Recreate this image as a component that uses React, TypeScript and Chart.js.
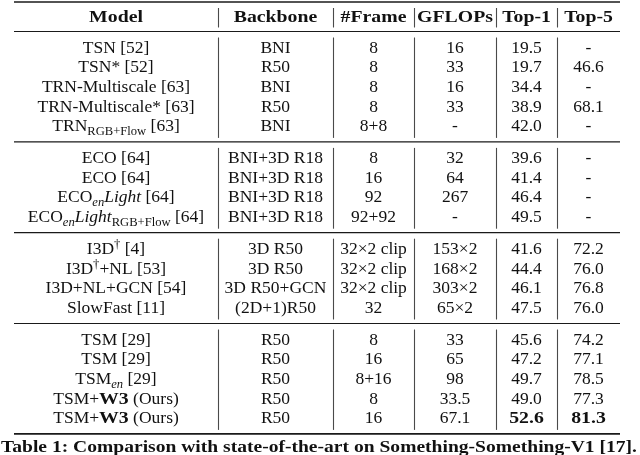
import React, { useEffect, useRef } from "react";
import { Chart, registerables } from "chart.js";

Chart.register(...registerables);

// ---------------- data ----------------
const columnHeaders = ["Model", "Backbone", "#Frame", "GFLOPs", "Top-1", "Top-5"];

const models = [
  "TSN [52]",
  "TSN* [52]",
  "TRN-Multiscale [63]",
  "TRN-Multiscale* [63]",
  "TRN_{RGB+Flow} [63]",
  "ECO [64]",
  "ECO [64]",
  "ECO_i{en}//Light// [64]",
  "ECO_i{en}//Light//_{RGB+Flow} [64]",
  "I3D^{†} [4]",
  "I3D^{†}+NL [53]",
  "I3D+NL+GCN [54]",
  "SlowFast [11]",
  "TSM [29]",
  "TSM [29]",
  "TSM_i{en} [29]",
  "TSM+**W3** (Ours)",
  "TSM+**W3** (Ours)",
];

const backbones = [
  "BNI", "R50", "BNI", "R50", "BNI",
  "BNI+3D R18", "BNI+3D R18", "BNI+3D R18", "BNI+3D R18",
  "3D R50", "3D R50", "3D R50+GCN", "(2D+1)R50",
  "R50", "R50", "R50", "R50", "R50",
];

const frames = [
  "8", "8", "8", "8", "8+8",
  "8", "16", "92", "92+92",
  "32×2 clip", "32×2 clip", "32×2 clip", "32",
  "8", "16", "8+16", "8", "16",
];

const gflops = [
  "16", "33", "16", "33", "-",
  "32", "64", "267", "-",
  "153×2", "168×2", "303×2", "65×2",
  "33", "65", "98", "33.5", "67.1",
];

const top1 = [
  "19.5", "19.7", "34.4", "38.9", "42.0",
  "39.6", "41.4", "46.4", "49.5",
  "41.6", "44.4", "46.1", "47.5",
  "45.6", "47.2", "49.7", "49.0", "**52.6**",
];

const top5 = [
  "-", "46.6", "-", "68.1", "-",
  "-", "-", "-", "-",
  "72.2", "76.0", "76.8", "76.0",
  "74.2", "77.1", "78.5", "77.3", "**81.3**",
];

const groupSizes = [5, 4, 4, 5];

const caption = "Table 1: Comparison with state-of-the-art on Something-Something-V1 [17].";

// ---------------- layout (not data) ----------------
const W = 640;
const H = 455;
const COL_EDGES = [14, 218, 333, 414, 496, 557, 620];
const FONT = '"Liberation Serif", "Times New Roman", serif';
const FS = 17.5;
const BOLD_SX = 1.13;
const TOP_RULE = 2;
const HEAD_CENTER = 16.5;
const HEAD_RULE = 31.5;
const ROW_H = 19.6;
const PAD = 6.2;
const CAPTION_Y = 447;
const CAPTION_W = 636;

type Seg = { t: string; bold: boolean; italic: boolean; scale: number; dy: number };

function parseRich(s: string, bold = false): Seg[] {
  const parts = s.split(/(_i\{[^}]*\}|_\{[^}]*\}|\^\{[^}]*\}|\*\*[^*]+\*\*|\/\/[^/]+\/\/)/);
  const out: Seg[] = [];
  for (const p of parts) {
    if (!p) continue;
    if (p.startsWith("_i{")) out.push({ t: p.slice(3, -1), bold, italic: true, scale: 0.72, dy: 3.5 });
    else if (p.startsWith("_{")) out.push({ t: p.slice(2, -1), bold, italic: false, scale: 0.72, dy: 3.5 });
    else if (p.startsWith("^{")) out.push({ t: p.slice(2, -1), bold, italic: false, scale: 0.72, dy: -6 });
    else if (p.startsWith("**")) out.push({ t: p.slice(2, -2), bold: true, italic: false, scale: 1, dy: 0 });
    else if (p.startsWith("//")) out.push({ t: p.slice(2, -2), bold, italic: true, scale: 1, dy: 0 });
    else out.push({ t: p, bold, italic: false, scale: 1, dy: 0 });
  }
  return out;
}

function segFont(s: Seg) {
  return `${s.italic ? "italic " : ""}${s.bold ? "bold " : ""}${(FS * s.scale).toFixed(2)}px ${FONT}`;
}

function drawRich(ctx: CanvasRenderingContext2D, text: string, cx: number, baseline: number, bold = false) {
  const segs = parseRich(text, bold);
  let total = 0;
  const widths = segs.map((s) => {
    ctx.font = segFont(s);
    const w = ctx.measureText(s.t).width * (s.bold ? BOLD_SX : 1);
    total += w;
    return w;
  });
  let x = cx - total / 2;
  segs.forEach((s, i) => {
    ctx.font = segFont(s);
    ctx.save();
    ctx.translate(x, baseline + s.dy);
    if (s.bold) ctx.scale(BOLD_SX, 1);
    ctx.fillText(s.t, 0, 0);
    ctx.restore();
    x += widths[i];
  });
}

function computeLayout() {
  const rowCenters: number[] = [];
  const rules: number[] = [HEAD_RULE];
  let y = HEAD_RULE;
  for (const n of groupSizes) {
    let c = y + PAD + ROW_H / 2;
    for (let i = 0; i < n; i++) {
      rowCenters.push(c);
      c += ROW_H;
    }
    y = y + 2 * PAD + n * ROW_H;
    rules.push(y);
  }
  return { rowCenters, rules };
}

const tablePlugin = {
  id: "tablePlugin",
  afterDatasetsDraw(chart: any) {
    const ctx: CanvasRenderingContext2D = chart.ctx;
    const xs = chart.scales.x;
    const ys = chart.scales.y;
    const { rowCenters, rules } = computeLayout();
    const colCenters = COL_EDGES.slice(0, -1).map((e, i) => (e + COL_EDGES[i + 1]) / 2);
    const left = xs.getPixelForValue(COL_EDGES[0]);
    const right = xs.getPixelForValue(COL_EDGES[COL_EDGES.length - 1]);

    ctx.save();
    // horizontal rules
    ctx.strokeStyle = "#1a1a1a";
    const hline = (v: number, lw: number) => {
      const py = ys.getPixelForValue(v);
      ctx.lineWidth = lw;
      ctx.beginPath();
      ctx.moveTo(left, py);
      ctx.lineTo(right, py);
      ctx.stroke();
    };
    hline(TOP_RULE, 1.6);
    rules.forEach((r, i) => hline(r, i === rules.length - 1 ? 1.6 : 1.2));

    // vertical lines (segments between rules)
    ctx.strokeStyle = "#4a4a4a";
    ctx.lineWidth = 1.1;
    const bands = [[TOP_RULE, HEAD_RULE], ...rules.slice(0, -1).map((r, i) => [r, rules[i + 1]])];
    for (const [a, b] of bands) {
      for (const e of COL_EDGES.slice(1, -1)) {
        const px = Math.round(xs.getPixelForValue(e)) + 0.5;
        ctx.beginPath();
        ctx.moveTo(px, ys.getPixelForValue(a + 6));
        ctx.lineTo(px, ys.getPixelForValue(b - 4));
        ctx.stroke();
      }
    }

    // text
    ctx.fillStyle = "#111";
    ctx.textAlign = "left";
    ctx.textBaseline = "alphabetic";
    const bOff = 5.3;
    columnHeaders.forEach((h, i) => {
      drawRich(ctx, h, xs.getPixelForValue(colCenters[i]), ys.getPixelForValue(HEAD_CENTER) + bOff, true);
    });
    const cols = [models, backbones, frames, gflops, top1, top5];
    rowCenters.forEach((rc, r) => {
      const by = ys.getPixelForValue(rc) + bOff;
      cols.forEach((col, c) => {
        drawRich(ctx, col[r], xs.getPixelForValue(colCenters[c]), by);
      });
    });

    // caption (bold, stretched to the measured caption width)
    ctx.font = `bold ${FS}px ${FONT}`;
    const cw = ctx.measureText(caption).width;
    const sx = CAPTION_W / cw;
    ctx.save();
    ctx.translate(xs.getPixelForValue(1), ys.getPixelForValue(CAPTION_Y) + bOff);
    ctx.scale(sx, 1);
    ctx.fillText(caption, 0, 0);
    ctx.restore();

    ctx.restore();
  },
};

export default function App() {
  const ref = useRef<HTMLCanvasElement>(null);
  useEffect(() => {
    if (!ref.current) return;
    const { rowCenters } = computeLayout();
    const colCenters = COL_EDGES.slice(0, -1).map((e, i) => (e + COL_EDGES[i + 1]) / 2);
    const cellPoints = rowCenters.flatMap((y) => colCenters.map((x) => ({ x, y })));
    const chart = new Chart(ref.current, {
      type: "scatter",
      data: {
        datasets: [
          { data: cellPoints, pointRadius: 0, pointHoverRadius: 0, showLine: false },
        ],
      },
      options: {
        animation: false,
        responsive: false,
        maintainAspectRatio: false,
        layout: { padding: 0 },
        events: [],
        plugins: { legend: { display: false }, tooltip: { enabled: false } },
        scales: {
          x: { type: "linear", min: 0, max: W, display: false },
          y: { type: "linear", min: 0, max: H, reverse: true, display: false },
        },
      },
      plugins: [tablePlugin],
    });
    return () => chart.destroy();
  }, []);
  return (
    <div style={{ position: "fixed", left: 0, top: 0, width: W, height: H, background: "#fff" }}>
      <canvas ref={ref} width={W} height={H} style={{ width: W, height: H, display: "block" }} />
    </div>
  );
}
